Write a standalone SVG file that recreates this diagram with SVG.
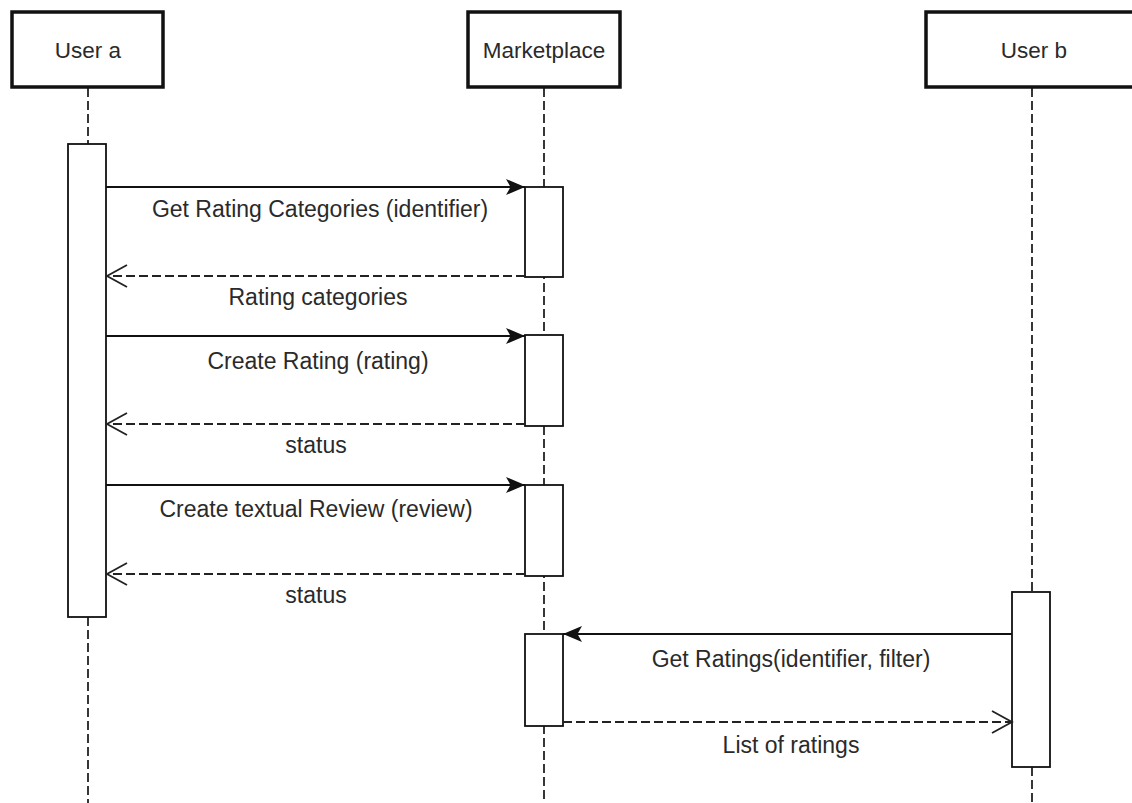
<svg xmlns="http://www.w3.org/2000/svg" width="1132" height="803" viewBox="0 0 1132 803">
  <defs>
    <style>
      .head { fill: #fff; stroke: #111; stroke-width: 3.5; }
      .bar { fill: #fff; stroke: #111; stroke-width: 1.8; }
      .life { fill: none; stroke: #222; stroke-width: 1.8; stroke-dasharray: 9 4; }
      .call { fill: none; stroke: #111; stroke-width: 1.8; }
      .reply { fill: none; stroke: #222; stroke-width: 1.8; stroke-dasharray: 9 4; }
      .label { font-family: "Liberation Sans", Arial, sans-serif; font-size: 23px; fill: #2a2a2a; text-anchor: middle; }
      .title { font-family: "Liberation Sans", Arial, sans-serif; font-size: 22.5px; fill: #2a2a2a; text-anchor: middle; }
    </style>
    <marker id="filled" markerUnits="userSpaceOnUse" markerWidth="22" markerHeight="18" refX="19" refY="9" orient="auto">
      <path d="M19,9 L0,1 L4.5,9 L0,17 Z" fill="#111"/>
    </marker>
    <marker id="open" markerUnits="userSpaceOnUse" markerWidth="24" markerHeight="26" refX="21" refY="12" orient="auto">
      <path d="M1,1 L21,12 L1,23" fill="none" stroke="#222" stroke-width="1.8"/>
    </marker>
  </defs>
  <rect width="1132" height="803" fill="#fff"/>

  <!-- lifelines -->
  <g id="lifelines">
    <line class="life" x1="88" y1="88" x2="88" y2="144"/>
    <line class="life" x1="88" y1="617" x2="88" y2="803"/>
    <line class="life" x1="544" y1="88" x2="544" y2="803"/>
    <line class="life" x1="1032" y1="88" x2="1032" y2="592"/>
    <line class="life" x1="1032" y1="767" x2="1032" y2="803"/>
  </g>

  <g id="user-a">
    <rect class="head" x="12" y="12" width="151" height="75"/>
    <text class="title" x="88" y="58">User a</text>
    <rect class="bar" x="68" y="144" width="38" height="473"/>
  </g>

  <g id="marketplace">
    <rect class="head" x="468" y="12" width="152" height="75"/>
    <text class="title" x="544" y="58">Marketplace</text>
    <rect class="bar" x="525" y="187" width="38" height="90"/>
    <rect class="bar" x="525" y="335" width="38" height="91"/>
    <rect class="bar" x="525" y="485" width="38" height="91"/>
    <rect class="bar" x="525" y="634" width="38" height="92"/>
  </g>

  <g id="user-b">
    <rect class="head" x="926" y="12" width="214" height="75"/>
    <text class="title" x="1034" y="58">User b</text>
    <rect class="bar" x="1012" y="592" width="38" height="175"/>
  </g>

  <!-- messages -->
  <g id="connectors">
    <line class="call" x1="106" y1="187" x2="525" y2="187" marker-end="url(#filled)"/>
    <line class="reply" x1="525" y1="276" x2="107" y2="276" marker-end="url(#open)"/>
    <line class="call" x1="106" y1="336" x2="525" y2="336" marker-end="url(#filled)"/>
    <line class="reply" x1="525" y1="424" x2="107" y2="424" marker-end="url(#open)"/>
    <line class="call" x1="106" y1="485" x2="525" y2="485" marker-end="url(#filled)"/>
    <line class="reply" x1="525" y1="574" x2="107" y2="574" marker-end="url(#open)"/>
    <line class="call" x1="1012" y1="634" x2="563" y2="634" marker-end="url(#filled)"/>
    <line class="reply" x1="563" y1="722" x2="1012" y2="722" marker-end="url(#open)"/>
  </g>

  <g id="message-labels">
    <text class="label" x="320" y="217">Get Rating Categories (identifier)</text>
    <text class="label" x="318" y="305">Rating categories</text>
    <text class="label" x="318" y="369">Create Rating (rating)</text>
    <text class="label" x="316" y="453">status</text>
    <text class="label" x="316" y="517">Create textual Review (review)</text>
    <text class="label" x="316" y="603">status</text>
    <text class="label" x="791" y="667">Get Ratings(identifier, filter)</text>
    <text class="label" x="791" y="753">List of ratings</text>
  </g>
</svg>
